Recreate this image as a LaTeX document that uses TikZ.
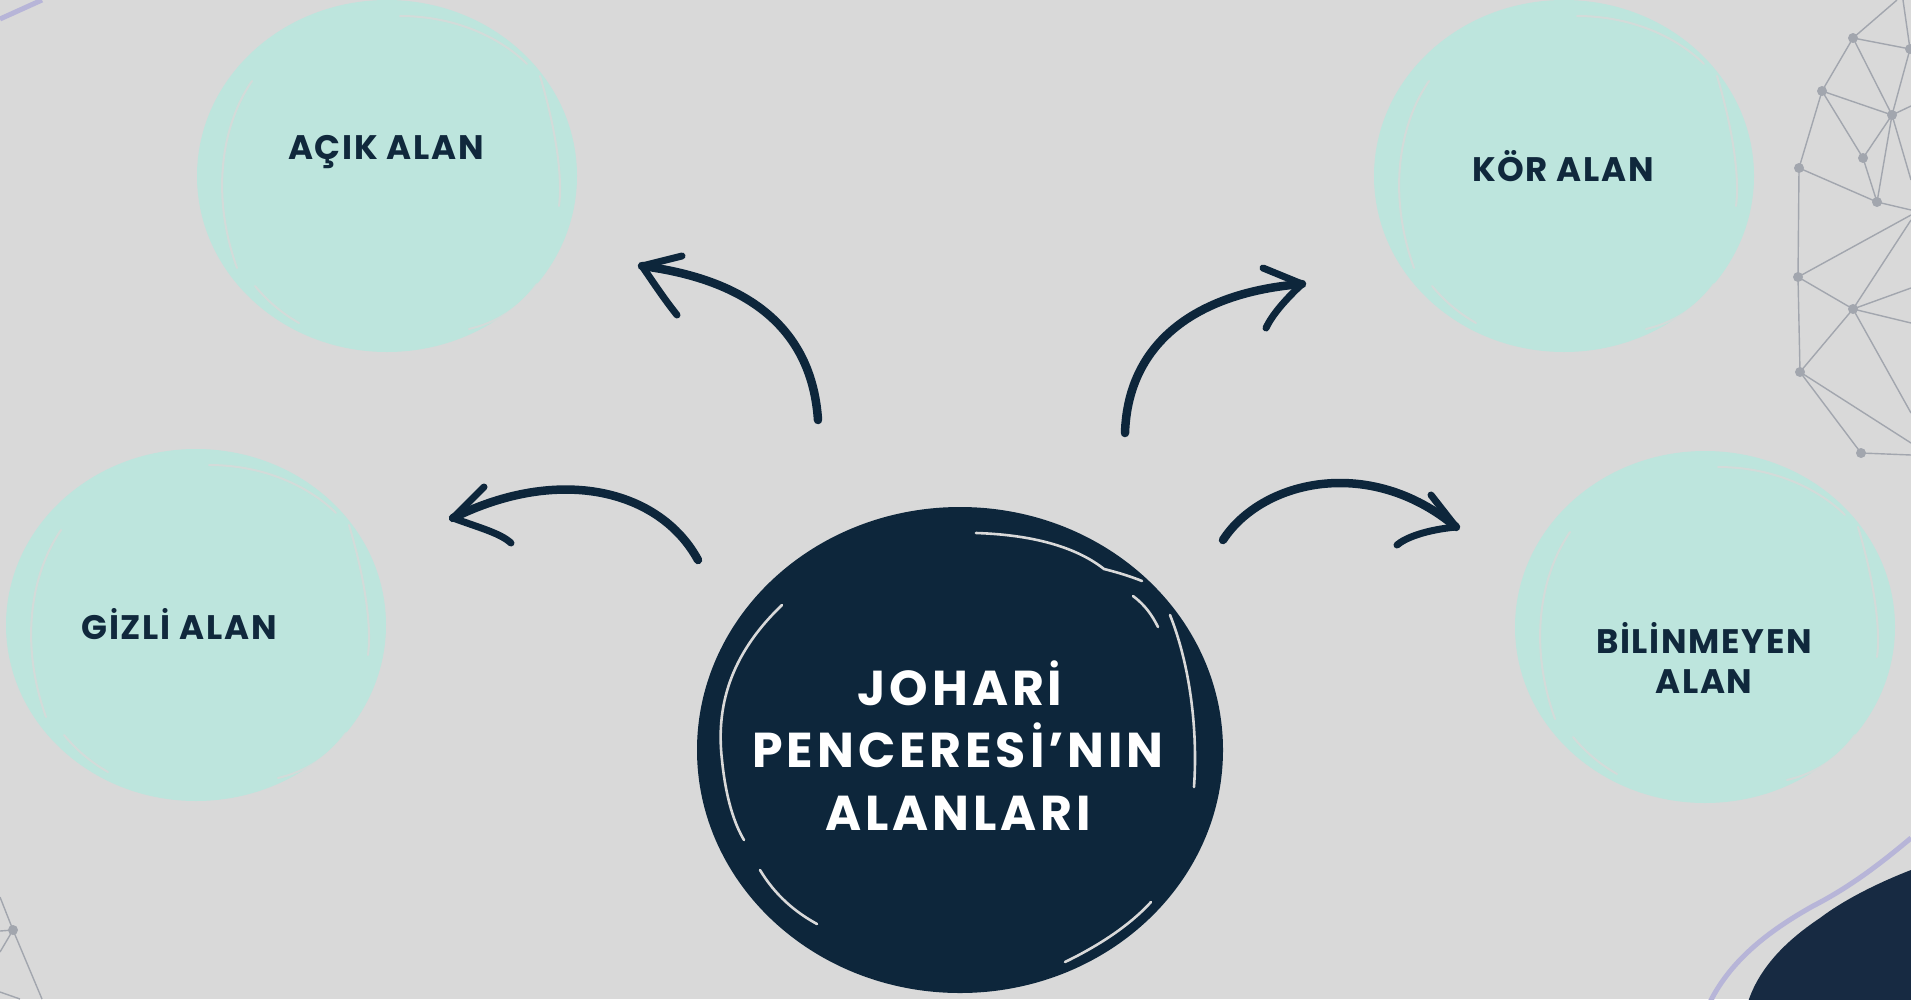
\documentclass[tikz,border=0pt]{standalone}
\usepackage{fontspec}
\newfontfamily\popfont{Poppins}[LetterSpace=5]
\newfontfamily\popwide{Poppins}[LetterSpace=8]
\definecolor{bgc}{HTML}{D9D9D9}
\definecolor{mint}{HTML}{BDE5DD}
\definecolor{navy}{HTML}{0D263B}
\definecolor{deepnavy}{HTML}{172A42}
\definecolor{lav}{HTML}{B7B5D8}
\definecolor{netgray}{HTML}{A2A6AE}
\definecolor{lbltext}{HTML}{10283C}
\tikzset{
  blob/.style={fill=mint},
  gap/.style={draw=bgc, line width=2pt, line cap=round, opacity=0.8},
  darkgap/.style={draw=bgc, line width=2.6pt, line cap=round},
  lbl/.style={font=\popfont\bfseries\fontsize{34}{40}\selectfont, text=lbltext, inner sep=0pt, anchor=base},
  ctitle/.style={font=\popwide\bfseries\fontsize{49}{58}\selectfont, text=white, inner sep=0pt, anchor=base},
  arrowline/.style={draw=navy, line width=8.5pt, line cap=round},
  barb/.style={draw=navy, line width=7pt, line cap=round, line join=round},
  netline/.style={draw=netgray, line width=1.4pt},
  netdot/.style={fill=netgray},
}
\begin{document}
\begin{tikzpicture}[x=1pt,y=-1pt]
\fill[bgc] (0,0) rectangle (1911,999);
\useasboundingbox (0,0) rectangle (1911,999);
\clip (0,0) rectangle (1911,999);

% ---- network (right edge) ----
\coordinate (n1) at (1853,38);
\coordinate (n2) at (1910,49);
\coordinate (n3) at (1822,91);
\coordinate (n4) at (1892,115);
\coordinate (n5) at (1863,158);
\coordinate (n6) at (1799,168);
\coordinate (n7) at (1877,202);
\coordinate (n8) at (1798,277);
\coordinate (n9) at (1853,309);
\coordinate (n10) at (1800,372);
\coordinate (n11) at (1861,453);
\draw[netline] (1897,0) -- (n1) -- (n2);
\draw[netline] (1903,0) -- (n2);
\draw[netline] (n1) -- (n3) -- (n4) -- (n1);
\draw[netline] (n4) -- (n2);
\draw[netline] (n3) -- (n5) -- (n7) -- (n4) -- (n5);
\draw[netline] (n3) -- (n6) -- (n7) -- (1911,210);
\draw[netline] (n4) -- (1911,106);
\draw[netline] (n4) -- (1911,180);
\draw[netline] (n6) -- (n8) -- (1911,215);
\draw[netline] (n8) -- (n9) -- (1911,220);
\draw[netline] (n9) -- (1911,288);
\draw[netline] (n9) -- (1911,323);
\draw[netline] (n9) -- (1911,413);
\draw[netline] (n9) -- (n10) -- (n8);
\draw[netline] (n10) -- (n11) -- (1911,455);
\draw[netline] (n10) -- (1911,443);
\foreach \n in {n1,n2,n3,n4,n5,n6,n7,n8,n9,n10,n11}
  \fill[netdot] (\n) circle (5pt);

% ---- network (bottom-left) ----
\coordinate (m1) at (13,930);
\draw[netline] (0,897) -- (m1) -- (0,931);
\draw[netline] (0,952) -- (m1) -- (42,999);
\draw[netline] (0,992) -- (20,999);
\fill[netdot] (m1) circle (5pt);

% ---- decorative corners ----
\draw[lav, line width=5pt] (0,19) -- (42,0);
\draw[lav, line width=5pt] (1911,838) .. controls (1880,864) and (1850,887) .. (1813,906)
  .. controls (1772,929) and (1732,958) .. (1710,1002);
\fill[deepnavy] (1911,870) .. controls (1880,882) and (1845,899) .. (1820,918)
  .. controls (1790,938) and (1760,965) .. (1748,1002) -- (1911,1002) -- cycle;

% ---- mint blobs ----
\foreach \cx/\cy in {387/176, 1564/176, 196/625, 1705/627}{
  \begin{scope}[shift={(\cx,\cy)}]
    \fill[blob] (0,0) ellipse [x radius=190pt, y radius=176pt];
    \draw[gap] (13,-160) .. controls (70,-160) and (115,-137) .. (140,-112);
    \draw[gap] (153,-100) .. controls (168,-50) and (176,0) .. (172,30);
    \draw[gap] (150,108) .. controls (132,133) and (108,147) .. (82,153);
    \draw[gap] (-135,-95) .. controls (-166,-50) and (-176,20) .. (-150,92);
    \draw[gap] (-132,110) .. controls (-117,128) and (-102,139) .. (-88,147);
  \end{scope}
}

% ---- labels ----
\node[lbl] (acik) at (386,159) {AÇIK ALAN};
\node[lbl] (kor) at (1563,181) {KÖR ALAN};
\node[lbl] (gizli) at (179,639) {GİZLİ ALAN};
\node[lbl] (bil1) at (1704,653) {BİLİNMEYEN};
\node[lbl] (bil2) at (1704,693) {ALAN};

% ---- central blob ----
\fill[navy] (960,750) ellipse [x radius=263pt, y radius=243pt];
\draw[darkgap] (976,533) .. controls (1040,535) and (1080,550) .. (1104,569)
  .. controls (1120,573) and (1132,577) .. (1142,581);
\draw[darkgap] (1133,596) .. controls (1145,605) and (1152,615) .. (1158,627);
\draw[darkgap] (1170,615) .. controls (1190,665) and (1198,730) .. (1194,787);
\draw[darkgap] (782,605) .. controls (735,650) and (715,700) .. (722,760)
  .. controls (726,800) and (735,825) .. (744,840);
\draw[darkgap] (760,870) .. controls (775,895) and (795,912) .. (817,924);
\draw[darkgap] (1065,962) .. controls (1100,945) and (1130,925) .. (1151,902);
\node[ctitle] (t1) at (960,705) {JOHARİ};
\node[ctitle] (t2) at (958,767) {PENCERESİ’NIN};
\node[ctitle] (t3) at (958,830) {ALANLARI};

% ---- arrows ----
\coordinate (a1s) at (818,420);
\coordinate (a1t) at (642,266);
\draw[arrowline] (a1s) .. controls (812,330) and (750,280) .. (a1t);
\draw[barb] (682,256) -- (a1t) .. controls (655,285) and (665,300) .. (677,315);

\coordinate (a2s) at (1125,433);
\coordinate (a2t) at (1302,284);
\draw[arrowline] (a2s) .. controls (1128,340) and (1200,292) .. (a2t);
\draw[barb] (1263,268) -- (a2t) .. controls (1285,300) and (1272,315) .. (1266,328);

\coordinate (a3s) at (698,560);
\coordinate (a3t) at (453,518);
\draw[arrowline] (a3s) .. controls (660,490) and (560,465) .. (a3t);
\draw[barb] (484,487) -- (a3t) .. controls (480,528) and (500,533) .. (511,543);

\coordinate (a4s) at (1223,540);
\coordinate (a4t) at (1456,527);
\draw[arrowline] (a4s) .. controls (1262,480) and (1370,455) .. (a4t);
\draw[barb] (1431,495) -- (a4t) .. controls (1425,530) and (1405,538) .. (1397,545);
\end{tikzpicture}
\end{document}
